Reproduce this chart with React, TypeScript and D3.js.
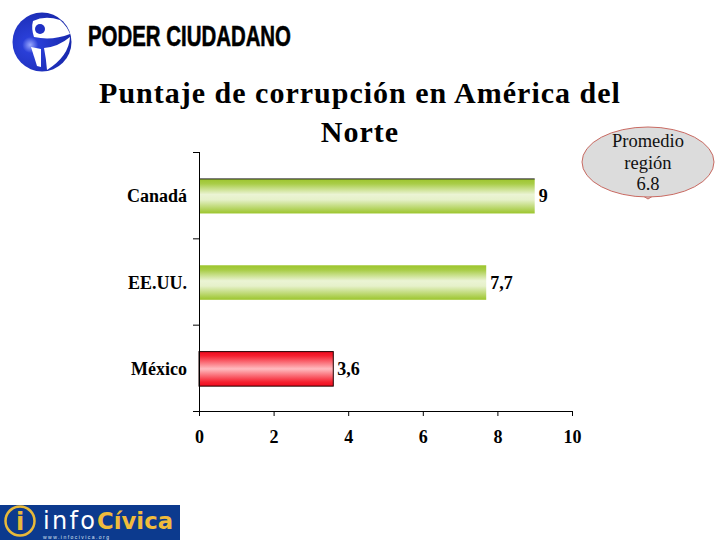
import * as d3 from "d3";
import { useEffect, useRef } from "react";

const countries = ["Canadá", "EE.UU.", "México"];
const scores = [9, 7.7, 3.6];
const scoreLabels = ["9", "7,7", "3,6"];
const barFills = ["url(#verde)", "url(#verde)", "url(#rojo)"];
const xTicks = [0, 2, 4, 6, 8, 10];
const titleLines = ["Puntaje de corrupción en América del", "Norte"];
const calloutLines = ["Promedio", "región", "6.8"];

const serif = "'Liberation Serif', 'Times New Roman', serif";
const margin = { top: 152, right: 148, bottom: 129, left: 199 };
const width = 720;
const height = 540;

const x = d3.scaleLinear().domain([0, 10]).range([margin.left, width - margin.right]);
const y = d3
  .scaleBand()
  .domain(countries)
  .range([margin.top, height - margin.bottom])
  .paddingInner(0.6)
  .paddingOuter(0.3)
  .align(0.52);

const App = () => {
  const ref = useRef<SVGGElement | null>(null);

  useEffect(() => {
    if (!ref.current) return;
    const g = d3.select(ref.current);
    g.selectAll("*").remove();

    // eje X
    const xAxis = g
      .append("g")
      .attr("transform", `translate(0,${height - margin.bottom})`)
      .call(d3.axisBottom(x).tickValues(xTicks).tickSize(5).tickFormat((d) => String(d)));
    xAxis.select(".domain").attr("d", `M${margin.left - 6},0.5H${width - margin.right}`);
    xAxis.selectAll("line").attr("y1", 0).attr("y2", 5);
    xAxis
      .selectAll("text")
      .attr("y", 19)
      .attr("dy", "0.71em")
      .attr("font-family", serif)
      .attr("font-weight", "bold")
      .attr("font-size", 18)
      .attr("fill", "#000");

    // eje Y: marcas entre categorias
    const yEdges = d3.scaleLinear().domain([0, 3]).range(y.range());
    const yAxis = g
      .append("g")
      .attr("transform", `translate(${margin.left},0)`)
      .call(d3.axisLeft(yEdges).ticks(3).tickSize(6).tickFormat(() => ""));
    yAxis.select(".domain").attr("d", `M0.5,${margin.top}V${height - margin.bottom}`);
  }, []);

  return (
    <svg
      width={width}
      height={height}
      viewBox={`0 0 ${width} ${height}`}
      style={{ position: "absolute", left: 0, top: 0, background: "#fff" }}
    >
      <defs>
        <linearGradient id="verde" x1="0" y1="0" x2="0" y2="1">
          <stop offset="0" stopColor="#9cc52c" />
          <stop offset="0.14" stopColor="#a9cd48" />
          <stop offset="0.45" stopColor="#ebf4d4" />
          <stop offset="0.6" stopColor="#e6f1ca" />
          <stop offset="1" stopColor="#9cc52c" />
        </linearGradient>
        <linearGradient id="rojo" x1="0" y1="0" x2="0" y2="1">
          <stop offset="0" stopColor="#f00a1e" />
          <stop offset="0.12" stopColor="#f5202f" />
          <stop offset="0.5" stopColor="#ffbcc0" />
          <stop offset="0.88" stopColor="#f5202f" />
          <stop offset="1" stopColor="#f00a1e" />
        </linearGradient>
        <radialGradient id="globo" cx="0.3" cy="0.55" r="0.75">
          <stop offset="0" stopColor="#9aa8ff" />
          <stop offset="0.18" stopColor="#2a3fd8" />
          <stop offset="1" stopColor="#1626a8" />
        </radialGradient>
      </defs>

      {/* logo Poder Ciudadano */}
      <circle cx={42} cy={42} r={29.5} fill="url(#globo)" />
      <path d="M33 21 Q45 15 60 20 Q67 26 70 34 Q52 41 34 37 Q31 28 33 21Z" fill="#fff" />
      <circle cx={40} cy={29} r={5} fill="#1f30c4" />
      <path d="M44 48 Q58 47 70 37 Q69 56 47 70 Q46 58 44 48Z" fill="#fff" />
      <path d="M31 47 L41 49 L41 67 L37 66 Z" fill="#fff" />
      <text
        x={88}
        y={46}
        textLength={203}
        lengthAdjust="spacingAndGlyphs"
        fontFamily="'Liberation Sans Narrow', 'Liberation Sans', sans-serif"
        fontWeight="bold"
        fontSize={30}
        stroke="#000"
        strokeWidth={0.6}
      >
        PODER CIUDADANO
      </text>

      {/* titulo */}
      {titleLines.map((t, i) => (
        <text
          key={t}
          x={360}
          y={103 + i * 38.5}
          textAnchor="middle"
          fontFamily={serif}
          fontWeight="bold"
          fontSize={30}
          letterSpacing={1}
        >
          {t}
        </text>
      ))}

      {/* barras */}
      {countries.map((c, i) => (
        <g key={c}>
          <rect
            x={x(0)}
            y={y(c)}
            width={x(scores[i]) - x(0)}
            height={y.bandwidth()}
            fill={barFills[i]}
          />
          {i === 2 && (
            <rect
              x={x(0)}
              y={y(c)}
              width={x(scores[i]) - x(0)}
              height={y.bandwidth()}
              fill="none"
              stroke="#200"
              strokeWidth={1}
            />
          )}
          {i === 0 && (
            <line x1={x(0)} x2={x(scores[i])} y1={y(c)} y2={y(c)} stroke="#222" strokeWidth={1} />
          )}
          <text
            x={x(0) - 12}
            y={y(c)! + y.bandwidth() / 2 + 6}
            textAnchor="end"
            fontFamily={serif}
            fontWeight="bold"
            fontSize={18}
          >
            {c}
          </text>
          <text
            x={x(scores[i]) + 4}
            y={y(c)! + y.bandwidth() / 2 + 6}
            fontFamily={serif}
            fontWeight="bold"
            fontSize={18}
          >
            {scoreLabels[i]}
          </text>
        </g>
      ))}

      <g ref={ref} />

      {/* globo de promedio */}
      <path d="M644 196.5 L648 199 L652 196.5" fill="#dcdcdc" stroke="#c96a62" strokeWidth={1} />
      <ellipse cx={648} cy={162} rx={66} ry={35} fill="#dcdcdc" stroke="#c96a62" strokeWidth={1} />
      {calloutLines.map((t, i) => (
        <text
          key={t}
          x={648}
          y={147 + i * 21.5}
          textAnchor="middle"
          fontFamily={serif}
          fontSize={18.5}
          fill="#111"
        >
          {t}
        </text>
      ))}

      {/* logo infoCivica */}
      <rect x={0} y={505} width={180} height={35} fill="#0c3a8e" />
      <circle cx={20} cy={521} r={14.5} fill="none" stroke="#e8b93a" strokeWidth={2.5} />
      <text x={20} y={530} textAnchor="middle" fontFamily="'DejaVu Sans', sans-serif" fontWeight="bold" fontSize={24} fill="#e8b93a">
        i
      </text>
      <text x={43} y={529} fontFamily="'DejaVu Sans', sans-serif" fontSize={24} fill="#fff" textLength={52} lengthAdjust="spacing">
        info
      </text>
      <text x={97} y={529} fontFamily="'DejaVu Sans', sans-serif" fontWeight="bold" fontSize={23} fill="#f0bb3c" textLength={76} lengthAdjust="spacingAndGlyphs">
        Cívica
      </text>
      <text x={43} y={539} fontFamily="'Liberation Sans', sans-serif" fontSize={5} fill="#dfe6f5" textLength={66}>
        www.infocivica.org
      </text>
    </svg>
  );
};

export default App;
